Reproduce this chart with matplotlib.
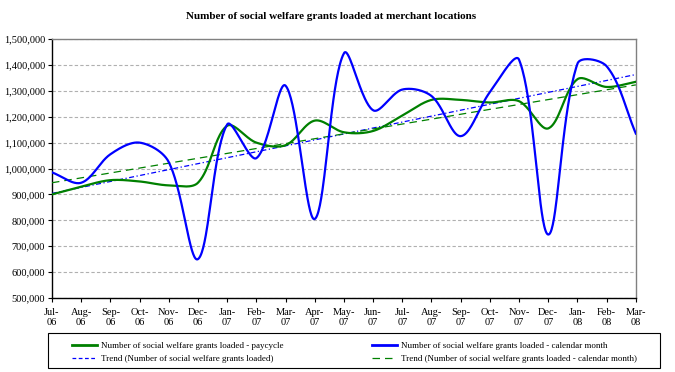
import numpy as np
import matplotlib
matplotlib.use("Agg")
import matplotlib.pyplot as plt
from matplotlib.lines import Line2D
from matplotlib.patches import Rectangle
from matplotlib.ticker import FuncFormatter, MultipleLocator

plt.rcParams['font.family'] = ['Liberation Serif', 'DejaVu Serif']

months = ["Jul-\n06", "Aug-\n06", "Sep-\n06", "Oct-\n06", "Nov-\n06", "Dec-\n06",
          "Jan-\n07", "Feb-\n07", "Mar-\n07", "Apr-\n07", "May-\n07", "Jun-\n07",
          "Jul-\n07", "Aug-\n07", "Sep-\n07", "Oct-\n07", "Nov-\n07", "Dec-\n07",
          "Jan-\n08", "Feb-\n08", "Mar-\n08"]

paycycle = [900000, 930000, 955000, 950000, 935000, 945000, 1165000, 1100000,
            1090000, 1185000, 1140000, 1145000, 1205000, 1265000, 1265000,
            1255000, 1260000, 1155000, 1345000, 1315000, 1335000]

calendar_month = [985000, 945000, 1055000, 1100000, 1025000, 650000, 1170000,
                  1040000, 1320000, 805000, 1445000, 1225000, 1305000, 1280000,
                  1125000, 1295000, 1420000, 745000, 1405000, 1395000, 1135000]

# trend lines, start and end values
trend_paycycle = [904000, 1363000]
trend_calendar = [945000, 1323000]


def smooth(y, sx=29.2, sy=259 / 1e6, steps=40):
    """Bezier smoothing like Excel's, tangents scaled by chord length on screen."""
    y = np.asarray(y, dtype=float)
    n = len(y)
    pts = np.column_stack([np.arange(n) * sx, y * sy])
    pad = np.vstack([pts[0], pts, pts[-1]])
    xs, ys = [], []
    t = np.linspace(0, 1, steps, endpoint=False)[:, None]
    for i in range(n - 1):
        p0, p1, p2, p3 = pad[i], pad[i + 1], pad[i + 2], pad[i + 3]
        d01 = np.linalg.norm(p1 - p0)
        d12 = np.linalg.norm(p2 - p1)
        d23 = np.linalg.norm(p3 - p2)
        f1 = d12 / (d01 + d12) / 3 if d01 + d12 > 0 else 0
        f2 = d12 / (d12 + d23) / 3 if d12 + d23 > 0 else 0
        c1 = p1 + (p2 - p0) * f1
        c2 = p2 - (p3 - p1) * f2
        seg = ((1 - t) ** 3 * p1 + 3 * (1 - t) ** 2 * t * c1
               + 3 * (1 - t) * t ** 2 * c2 + t ** 3 * p2)
        xs.extend(seg[:, 0])
        ys.extend(seg[:, 1])
    xs.append(pts[-1, 0])
    ys.append(pts[-1, 1])
    return np.array(xs) / sx, np.array(ys) / sy


fig = plt.figure(figsize=(6.75, 3.72), dpi=100)
ax = fig.add_axes([0.077, 0.199, 0.865, 0.696])

green = "#008000"
blue = "#0000FF"
x = np.arange(len(months))

px, py = smooth(paycycle)
ax.plot(px, py, color=green, lw=1.6, zorder=4)
px, py = smooth(calendar_month)
ax.plot(px, py, color=blue, lw=1.6, zorder=5)
ax.plot([x[0], x[-1]], trend_paycycle, color=blue, lw=0.9,
        dashes=(4, 2, 1, 2), zorder=3)
ax.plot([x[0], x[-1]], trend_calendar, color=green, lw=0.9,
        dashes=(6, 4), zorder=3)

ax.set_xlim(0, len(months) - 1)
ax.set_ylim(500000, 1500000)
ax.yaxis.set_major_locator(MultipleLocator(100000))
ax.yaxis.set_major_formatter(FuncFormatter(lambda v, p: f"{int(v):,}"))
ax.set_xticks(x)
ax.set_xticklabels(months)
ax.tick_params(axis='both', labelsize=7.5, length=3, width=0.8, direction='out', pad=2)
ax.tick_params(axis='x', pad=4)
ax.grid(axis='y', color='#b0b0b0', lw=0.8, ls=(0, (3, 2)))
ax.set_axisbelow(True)
for side in ("top", "right"):
    ax.spines[side].set_color('#808080')
    ax.spines[side].set_linewidth(1.0)
for side in ("left", "bottom"):
    ax.spines[side].set_color('black')
    ax.spines[side].set_linewidth(1.0)

fig.text(0.49, 0.955, "Number of social welfare grants loaded at merchant locations",
         ha='center', va='center', fontsize=8, fontweight='bold')

# legend frame and two legend columns
W, H = 675, 372
fig.patches.append(Rectangle((48 / W, 1 - 368 / H), 612 / W, 35 / H,
                             transform=fig.transFigure, fill=False,
                             edgecolor='black', lw=0.8))

col1 = [Line2D([], [], color=green, lw=2),
        Line2D([], [], color=blue, lw=0.9, dashes=(3, 2))]
lab1 = ["Number of social welfare grants loaded - paycycle",
        "Trend (Number of social welfare grants loaded)"]
col2 = [Line2D([], [], color=blue, lw=2),
        Line2D([], [], color=green, lw=0.9, dashes=(6, 4))]
lab2 = ["Number of social welfare grants loaded - calendar month",
        "Trend (Number of social welfare grants loaded - calendar month)"]

for handles, labels, x0 in ((col1, lab1, 72), (col2, lab2, 372)):
    leg = fig.legend(handles, labels, loc='upper left',
                     bbox_to_anchor=(x0 / W, 1 - 342 / H),
                     fontsize=6.5, frameon=False, handlelength=2.8,
                     borderaxespad=0, borderpad=0, labelspacing=0.5,
                     handletextpad=0.4)

fig.savefig("out.png", dpi=100)
